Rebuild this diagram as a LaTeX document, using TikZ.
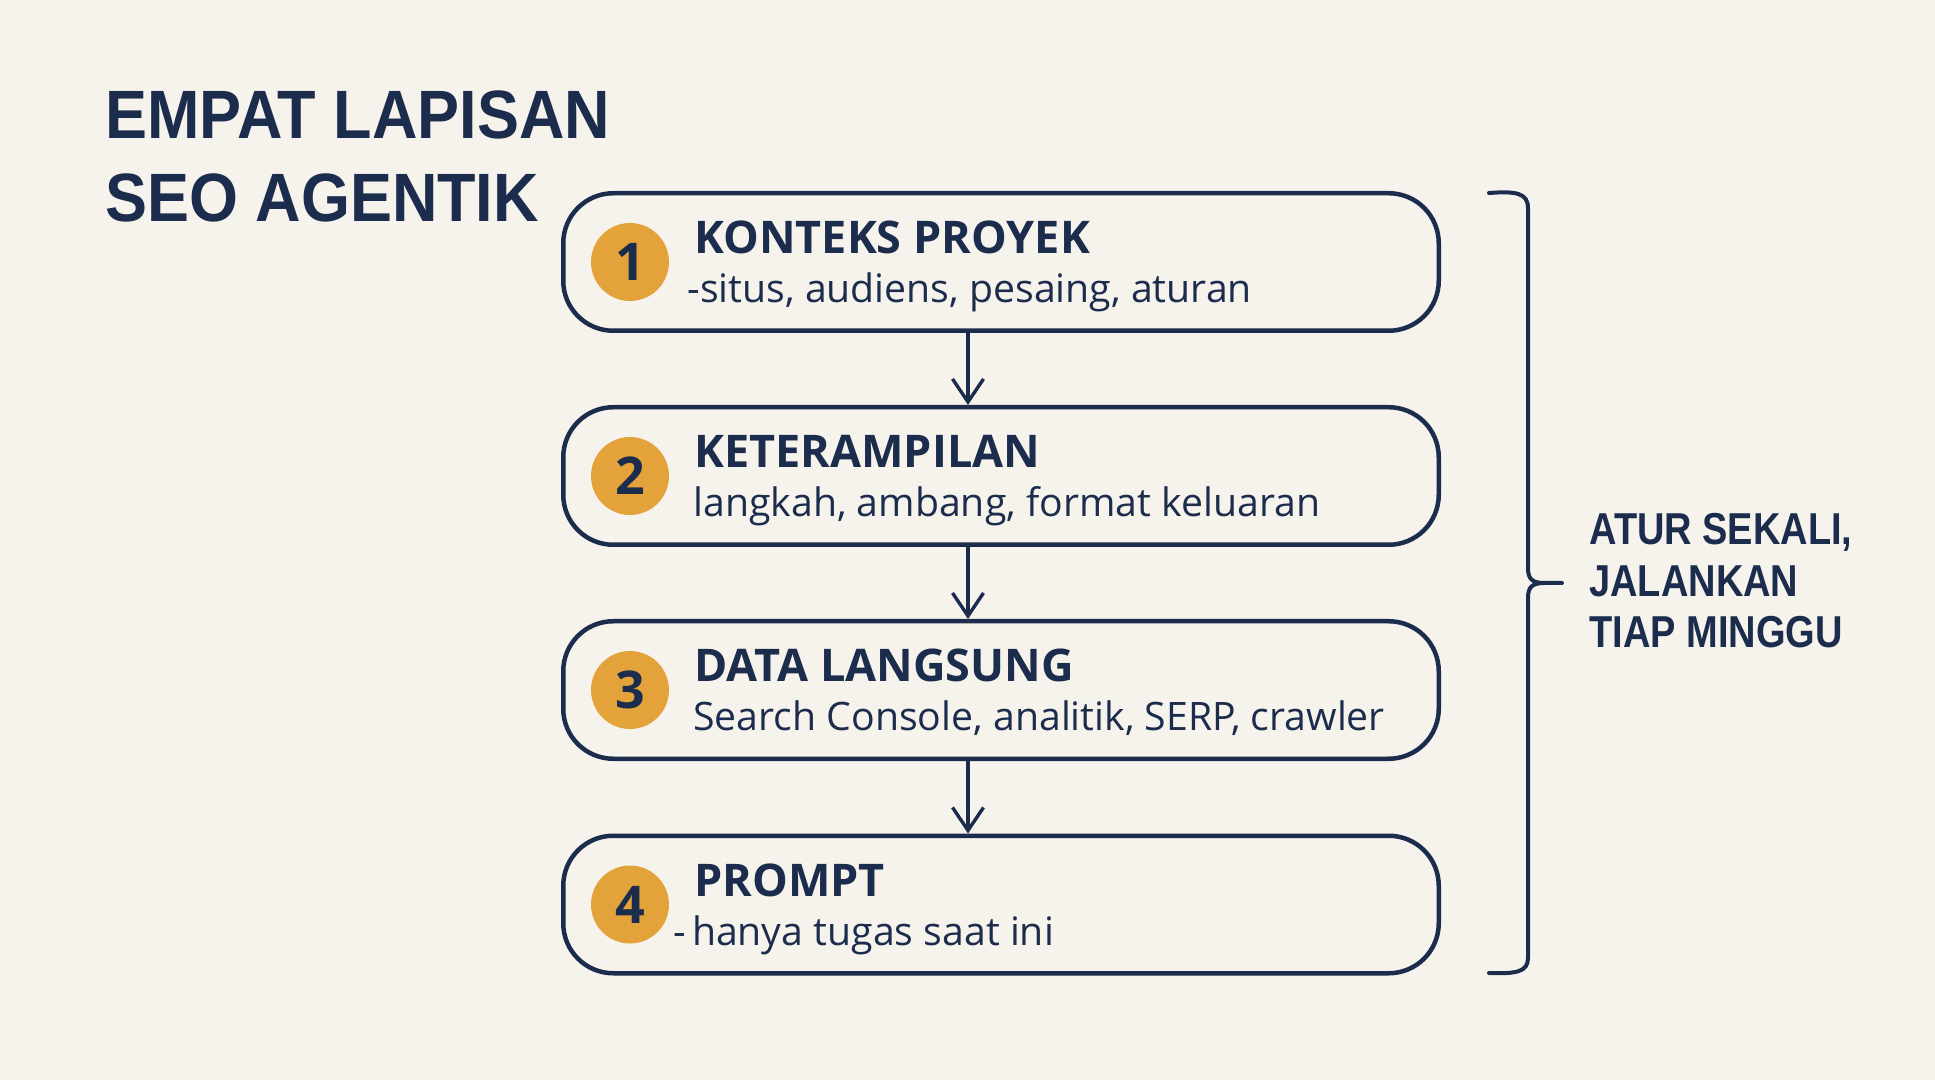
\documentclass[tikz,border=0pt]{standalone}
\usepackage{fontspec}
\setmainfont{Open Sans}
\newfontfamily\titlefont{Liberation Sans}[FakeStretch=0.92,BoldFeatures={FakeStretch=0.92}]
\newfontfamily\sidefont{Liberation Sans}[FakeStretch=0.85,BoldFeatures={FakeStretch=0.85}]
\usetikzlibrary{arrows.meta}
\definecolor{navy}{HTML}{1C2C4C}
\definecolor{ochre}{HTML}{E3A33A}
\definecolor{paper}{HTML}{F6F3ED}
\tikzset{
  layerbox/.style={draw=navy, line width=2.25pt, rounded corners=25pt, minimum width=437.75pt, minimum height=68.75pt, inner sep=0pt},
  numdisc/.style={circle, fill=ochre, minimum size=39pt, inner sep=0pt, text=navy, font=\bfseries\fontsize{26}{30}\selectfont},
  headtxt/.style={anchor=base west, inner sep=0pt, text=navy, font=\bfseries\fontsize{22.5}{26}\selectfont},
  subtxt/.style={anchor=base west, inner sep=0pt, text=navy, font=\fontsize{19.6}{23}\selectfont},
  titletxt/.style={anchor=base west, inner sep=0pt, text=navy, font=\titlefont\bfseries\fontsize{34.2}{41}\selectfont},
  sidetxt/.style={anchor=base west, inner sep=0pt, text=navy, font=\sidefont\bfseries\fontsize{22.35}{26}\selectfont},
  flowarrow/.style={draw=navy, line width=1.7pt, -{Straight Barb[length=11.5pt,width=15.5pt,line width=1.7pt]}},
  bracepath/.style={draw=navy, line width=2pt, line cap=round, line join=round}
}
\begin{document}
\begin{tikzpicture}[x=0.5pt,y=-0.5pt]
\fill[paper] (0,0) rectangle (1935,1080);
\useasboundingbox (0,0) rectangle (1935,1080);

% title
\node[titletxt] (t1) at (105,139) {EMPAT LAPISAN};
\node[titletxt] (t2) at (105,222) {SEO AGENTIK};

% boxes
\node[layerbox] (b1) at (1001,262) {};
\node[layerbox] (b2) at (1001,476) {};
\node[layerbox] (b3) at (1001,690) {};
\node[layerbox] (b4) at (1001,904.5) {};

% discs
\node[numdisc] (n1) at (630,262) {1};
\node[numdisc] (n2) at (630,476) {2};
\node[numdisc] (n3) at (630,690) {3};
\node[numdisc] (n4) at (630,904.5) {4};

% texts
\node[headtxt] (h1) at (694,254) {KONTEKS PROYEK};
\node[subtxt]  (s1) at (687,303) {-situs, audiens, pesaing, aturan};
\node[headtxt] (h2) at (694,468) {KETERAMPILAN};
\node[subtxt]  (s2) at (693,517) {langkah, ambang, format keluaran};
\node[headtxt] (h3) at (694,682) {DATA LANGSUNG};
\node[subtxt]  (s3) at (693,731) {Search Console, analitik, SERP, crawler};
\node[headtxt] (h4) at (694,896.5) {PROMPT};
\node[subtxt]  (s4) at (673,945.5) {-\kern3pt hanya tugas saat ini};

% arrows
\coordinate (ax) at (968,0);
\draw[flowarrow] (b1.south -| ax) -- (b2.north -| ax);
\draw[flowarrow] (b2.south -| ax) -- (b3.north -| ax);
\draw[flowarrow] (b3.south -| ax) -- (b4.north -| ax);

% brace
\draw[bracepath] (1489,193) .. controls (1516,191) and (1528,193) .. (1528,208) -- (1528,568) .. controls (1528,579) and (1532,583) .. (1545,583) -- (1562,583);
\draw[bracepath] (1545,583) .. controls (1532,583) and (1528,587) .. (1528,598) -- (1528,958) .. controls (1528,972) and (1516,974) .. (1489,973);

% side text
\node[sidetxt] (r1) at (1589,545) {ATUR SEKALI,};
\node[sidetxt] (r2) at (1589,597) {JALANKAN};
\node[sidetxt] (r3) at (1589,647) {TIAP MINGGU};
\end{tikzpicture}
\end{document}
